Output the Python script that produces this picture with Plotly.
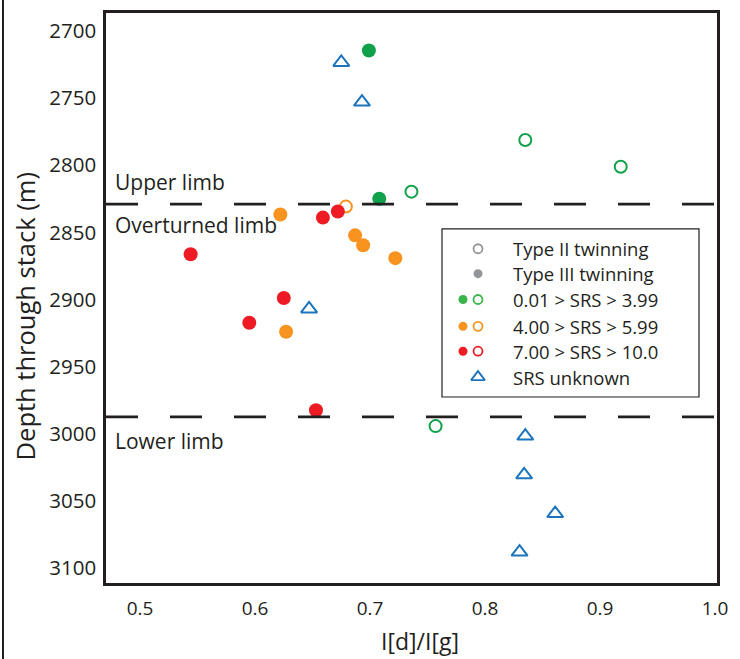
import plotly.graph_objects as go

# ---------------- data ----------------
green_filled_x = [0.699, 0.708]
green_filled_y = [2714.6, 2825.0]
green_open_x = [0.835, 0.918, 0.736, 0.757]
green_open_y = [2781.2, 2801.2, 2819.7, 2994.2]
orange_filled_x = [0.622, 0.687, 0.694, 0.722, 0.627]
orange_filled_y = [2836.7, 2852.2, 2859.6, 2869.2, 2924.0]
orange_open_x = [0.679]
orange_open_y = [2830.8]
red_filled_x = [0.672, 0.659, 0.544, 0.625, 0.595, 0.653]
red_filled_y = [2834.5, 2839.0, 2866.3, 2898.8, 2917.3, 2982.4]
unknown_x = [0.675, 0.693, 0.647, 0.835, 0.834, 0.861, 0.830]
unknown_y = [2723.5, 2753.0, 2907.0, 3001.6, 3030.5, 3059.3, 3088.0]

limb_boundaries = [2829.0, 2987.4]
limb_labels = ["Upper limb", "Overturned limb", "Lower limb"]
x_ticks = [0.5, 0.6, 0.7, 0.8, 0.9, 1.0]
x_ticklabels = ["0.5", "0.6", "0.7", "0.8", "0.9", "1.0"]
y_ticks = [2700, 2750, 2800, 2850, 2900, 2950, 3000, 3050, 3100]
x_title = "I[d]/I[g]"
y_title = "Depth through stack (m)"
legend_labels = ["Type II twinning", "Type III twinning", "0.01 > SRS > 3.99",
                 "4.00 > SRS > 5.99", "7.00 > SRS > 10.0", "SRS unknown"]

# ---------------- style ----------------
GREEN = "#12A14B"
GREEN_L = "#39B54A"
ORANGE = "#F7931E"
RED = "#ED1C24"
BLUE = "#1C75BC"
GRAY = "#939598"
INK = "#231F20"
FONT = "Open Sans"

W, H = 740, 659
L, R, T, B = 106, 23, 10, 76
PW, PH = W - L - R, H - T - B


def px(xp):
    return (xp - L) / PW


def py(yp):
    return (H - B - yp) / PH


fig = go.Figure()


def add(x, y, symbol, color, size, lw=0):
    fig.add_trace(go.Scatter(
        x=x, y=y, mode="markers", showlegend=False, hoverinfo="skip",
        marker=dict(symbol=symbol, size=size, color=color,
                    line=dict(color=color, width=lw))))


add(unknown_x, unknown_y, "triangle-up-open", BLUE, 14, 2)
add(green_open_x, green_open_y, "circle-open", GREEN, 12, 2)
add(orange_open_x, orange_open_y, "circle-open", ORANGE, 12, 2)
add(green_filled_x, green_filled_y, "circle", GREEN, 14)
add(orange_filled_x, orange_filled_y, "circle", ORANGE, 14)
add(red_filled_x, red_filled_y, "circle", RED, 14)

# ---------------- custom legend (overlay axes in plot-pixel space) ----------------
leg_rows = [247, 272, 298, 325, 350, 376]
leg_open_x = 478
leg_fill_x = 463
leg_text_x = 511


def add_leg(xp, yp, symbol, color, size, lw=0):
    fig.add_trace(go.Scatter(
        x=[px(xp)], y=[py(yp)], xaxis="x2", yaxis="y2", mode="markers",
        showlegend=False, hoverinfo="skip",
        marker=dict(symbol=symbol, size=size, color=color,
                    line=dict(color=color, width=lw))))


add_leg(leg_open_x, leg_rows[0], "circle-open", GRAY, 9, 1.8)
add_leg(leg_open_x, leg_rows[1], "circle", GRAY, 9)
for row, col in zip(leg_rows[2:5], [GREEN_L, ORANGE, RED]):
    add_leg(leg_fill_x, row, "circle", col, 9)
    add_leg(leg_open_x, row, "circle-open", col, 9, 1.8)
add_leg(leg_open_x, leg_rows[5], "triangle-up-open", BLUE, 12, 1.8)

annotations = []
for row, txt in zip(leg_rows, legend_labels):
    annotations.append(dict(x=px(leg_text_x), y=py(row), xref="paper", yref="paper",
                            text=txt, showarrow=False, xanchor="left", yanchor="middle",
                            font=dict(family=FONT, size=18.5, color=INK)))

# limb labels
for txt, yp in zip(limb_labels, [180, 223, 440]):
    annotations.append(dict(x=px(113), y=py(yp), xref="paper", yref="paper",
                            text=txt, showarrow=False, xanchor="left", yanchor="middle",
                            font=dict(family=FONT, size=21, color=INK)))

# axis titles
annotations.append(dict(x=px(420), y=py(641), xref="paper", yref="paper",
                        text=x_title, showarrow=False, xanchor="center", yanchor="middle",
                        font=dict(family=FONT, size=23, color=INK)))
annotations.append(dict(x=px(25), y=py(315), xref="paper", yref="paper",
                        text=y_title, showarrow=False, xanchor="center", yanchor="middle",
                        textangle=-90,
                        font=dict(family=FONT, size=25.5, color=INK)))

shapes = []
for yb in limb_boundaries:
    shapes.append(dict(type="line", xref="paper", yref="y", x0=0, x1=1, y0=yb, y1=yb,
                       line=dict(color=INK, width=2.8, dash="32px,32px")))
# legend box
shapes.append(dict(type="rect", xref="paper", yref="paper",
                   x0=px(442), x1=px(699), y0=py(396), y1=py(227),
                   line=dict(color=INK, width=1.2), fillcolor="rgba(0,0,0,0)"))
# outer left frame line
shapes.append(dict(type="line", xref="paper", yref="paper",
                   x0=px(3), x1=px(3), y0=py(H + 5), y1=py(-5),
                   line=dict(color=INK, width=2)))

fig.update_layout(
    width=W, height=H,
    margin=dict(l=L, r=R, t=T, b=B),
    paper_bgcolor="white", plot_bgcolor="white",
    font=dict(family=FONT, color=INK),
    xaxis=dict(range=[0.4704, 1.0017], tickvals=x_ticks, ticktext=x_ticklabels,
               showgrid=False, zeroline=False, showline=True, mirror=True,
               linecolor=INK, linewidth=2.5, ticks="", ticklabelstandoff=6,
               tickfont=dict(family=FONT, size=19, color=INK)),
    yaxis=dict(range=[3111, 2686.7], tickvals=y_ticks,
               showgrid=False, zeroline=False, showline=True, mirror=True,
               linecolor=INK, linewidth=2.5, ticks="", ticklabelstandoff=3,
               tickfont=dict(family=FONT, size=20.5, color=INK)),
    xaxis2=dict(overlaying="x", range=[0, 1], visible=False, fixedrange=True),
    yaxis2=dict(overlaying="y", range=[0, 1], visible=False, fixedrange=True),
    shapes=shapes,
    annotations=annotations,
    showlegend=False,
)

fig.write_html("out.html", config={"displayModeBar": False},
               post_script="document.body.style.margin='0';document.body.style.padding='0';")
